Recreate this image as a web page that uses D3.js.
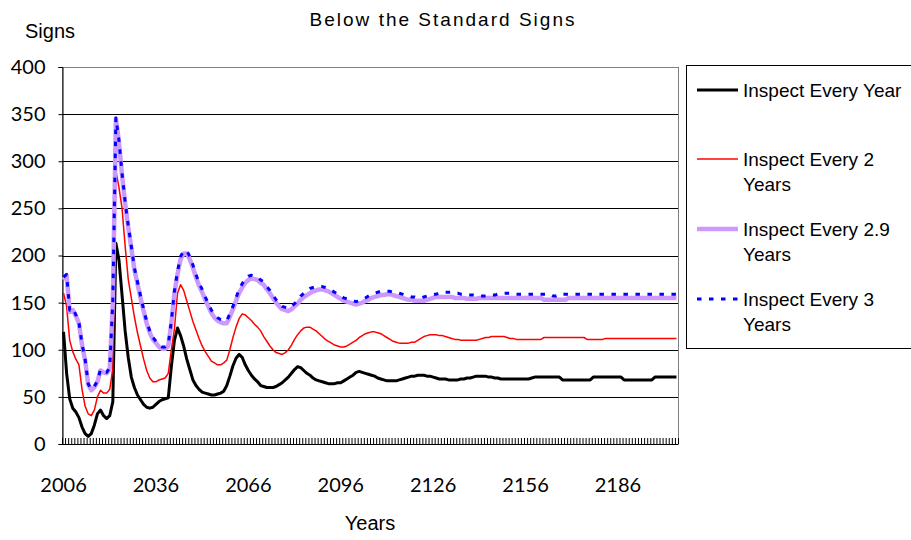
<!DOCTYPE html>
<html>
<head>
<meta charset="utf-8">
<script src="https://cdn.jsdelivr.net/npm/d3@7"></script>
<style>
  body { margin: 0; background: #fff; }
  text { fill: #000; }
</style>
</head>
<body>
<div id="chart"></div>
<script>
// Below the Standard Signs, four inspection intervals

const years = d3.range(2006, 2206);
const yTicks = [0, 50, 100, 150, 200, 250, 300, 350, 400];
const labelYears = [2006, 2036, 2066, 2096, 2126, 2156, 2186];

const everyYear = [
  119, 75, 48, 38, 34, 28, 18, 11, 8, 11,
  20, 32, 36, 30, 27, 30, 45, 213, 195, 158,
  120, 92, 71, 60, 52, 47, 42, 39, 38, 39,
  42, 45, 47, 48, 49, 82, 110, 123, 115, 104,
  90, 79, 68, 62, 58, 55, 54, 53, 52, 52,
  53, 54, 56, 62, 72, 83, 91, 95, 92, 84,
  78, 73, 69, 66, 62, 61, 60, 60, 60, 61,
  63, 65, 68, 71, 75, 79, 82, 81, 78, 75,
  73, 70, 68, 67, 66, 65, 64, 64, 64, 65,
  65, 67, 69, 71, 73, 76, 77, 76, 75, 74,
  73, 72, 70, 69, 68, 67, 67, 67, 67, 68,
  69, 70, 71, 72, 72, 73, 73, 73, 72, 72,
  71, 70, 69, 69, 69, 68, 68, 68, 68, 69,
  69, 70, 70, 71, 72, 72, 72, 72, 71, 71,
  70, 70, 69, 69, 69, 69, 69, 69, 69, 69,
  69, 69, 70, 71, 71, 71, 71, 71, 71, 71,
  71, 71, 68, 68, 68, 68, 68, 68, 68, 68,
  68, 68, 71, 71, 71, 71, 71, 71, 71, 71,
  71, 71, 68, 68, 68, 68, 68, 68, 68, 68,
  68, 68, 71, 71, 71, 71, 71, 71, 71, 71
];

const every2 = [
  160, 146, 110, 98, 90, 84, 58, 40, 32, 30,
  36, 50, 57, 54, 54, 58, 80, 290, 272, 250,
  210, 175, 155, 135, 118, 104, 90, 78, 70, 66,
  66, 68, 69, 70, 75, 100, 122, 160, 169, 163,
  152, 141, 130, 121, 112, 104, 98, 93, 88, 86,
  84, 84, 86, 89, 100, 113, 124, 133, 138, 137,
  134, 131, 127, 124, 120, 114, 109, 104, 100, 97,
  96, 95, 97, 100, 105, 111, 116, 120, 123, 124,
  124, 122, 120, 117, 114, 111, 109, 107, 105, 104,
  103, 103, 104, 106, 108, 110, 113, 115, 117, 118,
  119, 119, 118, 117, 115, 113, 111, 109, 108, 107,
  107, 107, 107, 108, 108, 110, 112, 114, 115, 116,
  116, 116, 115, 115, 114, 113, 112, 111, 111, 110,
  110, 110, 110, 110, 110, 111, 112, 113, 113, 114,
  114, 114, 114, 114, 113, 112, 112, 111, 111, 111,
  111, 111, 111, 111, 111, 111, 113, 113, 113, 113,
  113, 113, 113, 113, 113, 113, 113, 113, 113, 113,
  111, 111, 111, 111, 111, 111, 112, 112, 112, 112,
  112, 112, 112, 112, 112, 112, 112, 112, 112, 112,
  112, 112, 112, 112, 112, 112, 112, 112, 112, 112
];

const every29 = [
  174, 179, 140, 142, 136, 128, 105, 89, 63, 57,
  60, 66, 78, 76, 75, 80, 150, 345, 320, 285,
  255, 230, 208, 185, 170, 155, 141, 128, 118, 111,
  107, 103, 101, 101, 104, 128, 160, 180, 196, 202,
  202, 196, 187, 177, 168, 161, 153, 146, 139, 134,
  131, 129, 128, 128, 135, 143, 152, 160, 166, 171,
  174, 176, 175, 174, 171, 169, 164, 160, 155, 150,
  146, 143, 142, 141, 143, 146, 149, 153, 156, 158,
  160, 162, 163, 164, 164, 163, 162, 160, 158, 156,
  154, 152, 151, 150, 149, 148, 149, 150, 152, 153,
  155, 156, 157, 158, 158, 159, 159, 158, 157, 156,
  155, 154, 153, 153, 152, 152, 152, 152, 153, 154,
  155, 156, 156, 156, 156, 156, 156, 155, 155, 155,
  155, 154, 154, 154, 154, 155, 155, 155, 155, 155,
  155, 155, 155, 155, 155, 155, 155, 155, 155, 155,
  155, 155, 155, 155, 155, 155, 153, 153, 153, 153,
  153, 153, 153, 153, 155, 155, 155, 155, 155, 155,
  155, 155, 155, 155, 155, 155, 155, 155, 155, 155,
  155, 155, 155, 155, 155, 155, 155, 155, 155, 155,
  155, 155, 155, 155, 155, 155, 155, 155, 155, 155
];

const every3 = [
  177, 180, 142, 144, 137, 129, 106, 90, 64, 58,
  61, 67, 79, 77, 76, 81, 152, 346, 322, 287,
  257, 232, 210, 187, 172, 157, 143, 130, 120, 113,
  109, 105, 103, 103, 106, 130, 162, 183, 199, 205,
  205, 199, 190, 180, 171, 164, 156, 149, 142, 137,
  134, 132, 131, 131, 138, 146, 155, 164, 170, 175,
  178, 179, 178, 177, 174, 172, 167, 163, 158, 153,
  149, 146, 145, 144, 146, 149, 152, 157, 160, 163,
  165, 166, 167, 167, 167, 166, 165, 163, 161, 159,
  157, 155, 154, 153, 152, 151, 152, 153, 155, 157,
  159, 160, 161, 162, 162, 162, 162, 161, 161, 160,
  159, 158, 157, 156, 156, 155, 155, 156, 157, 158,
  159, 159, 160, 160, 161, 161, 161, 160, 160, 159,
  159, 158, 158, 158, 157, 157, 157, 157, 157, 158,
  158, 159, 159, 160, 160, 160, 159, 159, 159, 159,
  159, 159, 159, 159, 159, 159, 159, 159, 159, 157,
  157, 159, 159, 159, 159, 159, 159, 159, 159, 159,
  159, 159, 159, 159, 159, 159, 159, 159, 159, 159,
  159, 159, 159, 159, 159, 159, 159, 159, 159, 159,
  159, 159, 159, 159, 159, 159, 159, 159, 159, 159
];

const seriesNames = [["Inspect Every Year"], ["Inspect Every 2", "Years"], ["Inspect Every 2.9", "Years"], ["Inspect Every 3", "Years"]];

const width = 911, height = 540;
const plot = { left: 62, right: 678, top: 67, bottom: 444 };

const series = [
  { name: seriesNames[0], values: everyYear, color: "#000000", width: 3, dash: null },
  { name: seriesNames[1], values: every2, color: "#ff0000", width: 1.5, dash: null },
  { name: seriesNames[2], values: every29, color: "#cc99ff", width: 4.5, dash: null },
  { name: seriesNames[3], values: every3, color: "#0000ff", width: 3, dash: "4.5,7.5" }
];

const svg = d3.select("#chart")
  .append("svg")
  .attr("width", width)
  .attr("height", height)
  .style("font-family", "'Liberation Sans', Arial, sans-serif");

const x = d3.scaleBand()
  .domain(years)
  .range([plot.left, plot.right])
  .padding(0);

const y = d3.scaleLinear()
  .domain([0, 400])
  .range([plot.bottom, plot.top]);

// plot area frame
svg.append("rect")
  .attr("x", plot.left + 0.5)
  .attr("y", plot.top + 0.5)
  .attr("width", plot.right - plot.left)
  .attr("height", plot.bottom - plot.top)
  .attr("fill", "none")
  .attr("stroke", "#808080")
  .attr("stroke-width", 1);

// gridlines
svg.append("g")
  .selectAll("line")
  .data(yTicks.filter(d => d > 0))
  .join("line")
  .attr("x1", plot.left)
  .attr("x2", plot.right)
  .attr("y1", d => Math.round(y(d)) + 0.5)
  .attr("y2", d => Math.round(y(d)) + 0.5)
  .attr("stroke", d => d === 400 ? "#808080" : "#000")
  .attr("stroke-width", 1);

// y axis
const yAxis = svg.append("g")
  .attr("transform", `translate(${plot.left + 0.5},0)`)
  .call(d3.axisLeft(y).tickValues(yTicks).tickSize(4).tickPadding(13));
yAxis.select(".domain").attr("stroke", "#000");
yAxis.selectAll("text")
  .style("font-family", "Lato, sans-serif")
  .style("font-size", "20px");

// x axis: d3 axis with a tick at every category edge, drawn upward into the plot
const edge = d3.scaleLinear()
  .domain([0, years.length])
  .range([plot.left, plot.right]);

const combAxis = svg.append("g")
  .attr("class", "comb")
  .attr("transform", `translate(0,${plot.bottom})`)
  .call(d3.axisTop(edge).tickValues(d3.range(0, years.length + 1)).tickSize(6).tickFormat(""));
combAxis.select(".domain").remove();
combAxis.selectAll(".tick line")
  .attr("stroke", "#000")
  .attr("stroke-width", 1);

const xAxis = svg.append("g")
  .attr("transform", `translate(0,${plot.bottom + 0.5})`);
xAxis.append("line")
  .attr("x1", plot.left).attr("x2", plot.right)
  .attr("stroke", "#000");
xAxis.append("g")
  .selectAll("text")
  .data(labelYears)
  .join("text")
  .attr("x", d => x(d) + x.bandwidth() / 2)
  .attr("y", 47)
  .attr("text-anchor", "middle")
  .style("font-family", "Lato, sans-serif")
  .style("font-size", "20px")
  .text(d => d);

// lines
const line = d3.line()
  .x((d, i) => x(years[i]) + x.bandwidth() / 2)
  .y(d => y(d));

svg.append("g")
  .selectAll("path")
  .data(series)
  .join("path")
  .attr("fill", "none")
  .attr("stroke", d => d.color)
  .attr("stroke-width", d => d.width)
  .attr("stroke-dasharray", d => d.dash)
  .attr("stroke-linejoin", "round")
  .attr("d", d => line(d.values));

// titles
svg.append("text")
  .attr("x", 442)
  .attr("y", 26)
  .attr("text-anchor", "middle")
  .attr("textLength", 265)
  .style("font-size", "19px")
  .text("Below the Standard Signs");

svg.append("text")
  .attr("x", 25)
  .attr("y", 38)
  .attr("textLength", 50)
  .attr("lengthAdjust", "spacingAndGlyphs")
  .style("font-size", "20px")
  .text("Signs");

svg.append("text")
  .attr("x", 370)
  .attr("y", 530)
  .attr("text-anchor", "middle")
  .style("font-size", "20px")
  .text("Years");

// legend
const legend = svg.append("g");
legend.append("rect")
  .attr("x", 686.5)
  .attr("y", 65.5)
  .attr("width", 230)
  .attr("height", 283)
  .attr("fill", "#fff")
  .attr("stroke", "#000")
  .attr("stroke-width", 1);

const legendY = [90, 159, 229, 299];
const item = legend.selectAll("g.item")
  .data(series)
  .join("g")
  .attr("class", "item")
  .attr("transform", (d, i) => `translate(0,${legendY[i]})`);

item.append("line")
  .attr("x1", 697)
  .attr("x2", 738)
  .attr("stroke", d => d.color)
  .attr("stroke-width", d => d.width)
  .attr("stroke-dasharray", d => d.dash);

item.append("text")
  .attr("x", 743)
  .attr("y", 7)
  .style("font-size", "19px")
  .selectAll("tspan")
  .data(d => d.name)
  .join("tspan")
  .attr("x", 743)
  .attr("dy", (d, i) => i === 0 ? 0 : 25)
  .text(d => d);
</script>
</body>
</html>
